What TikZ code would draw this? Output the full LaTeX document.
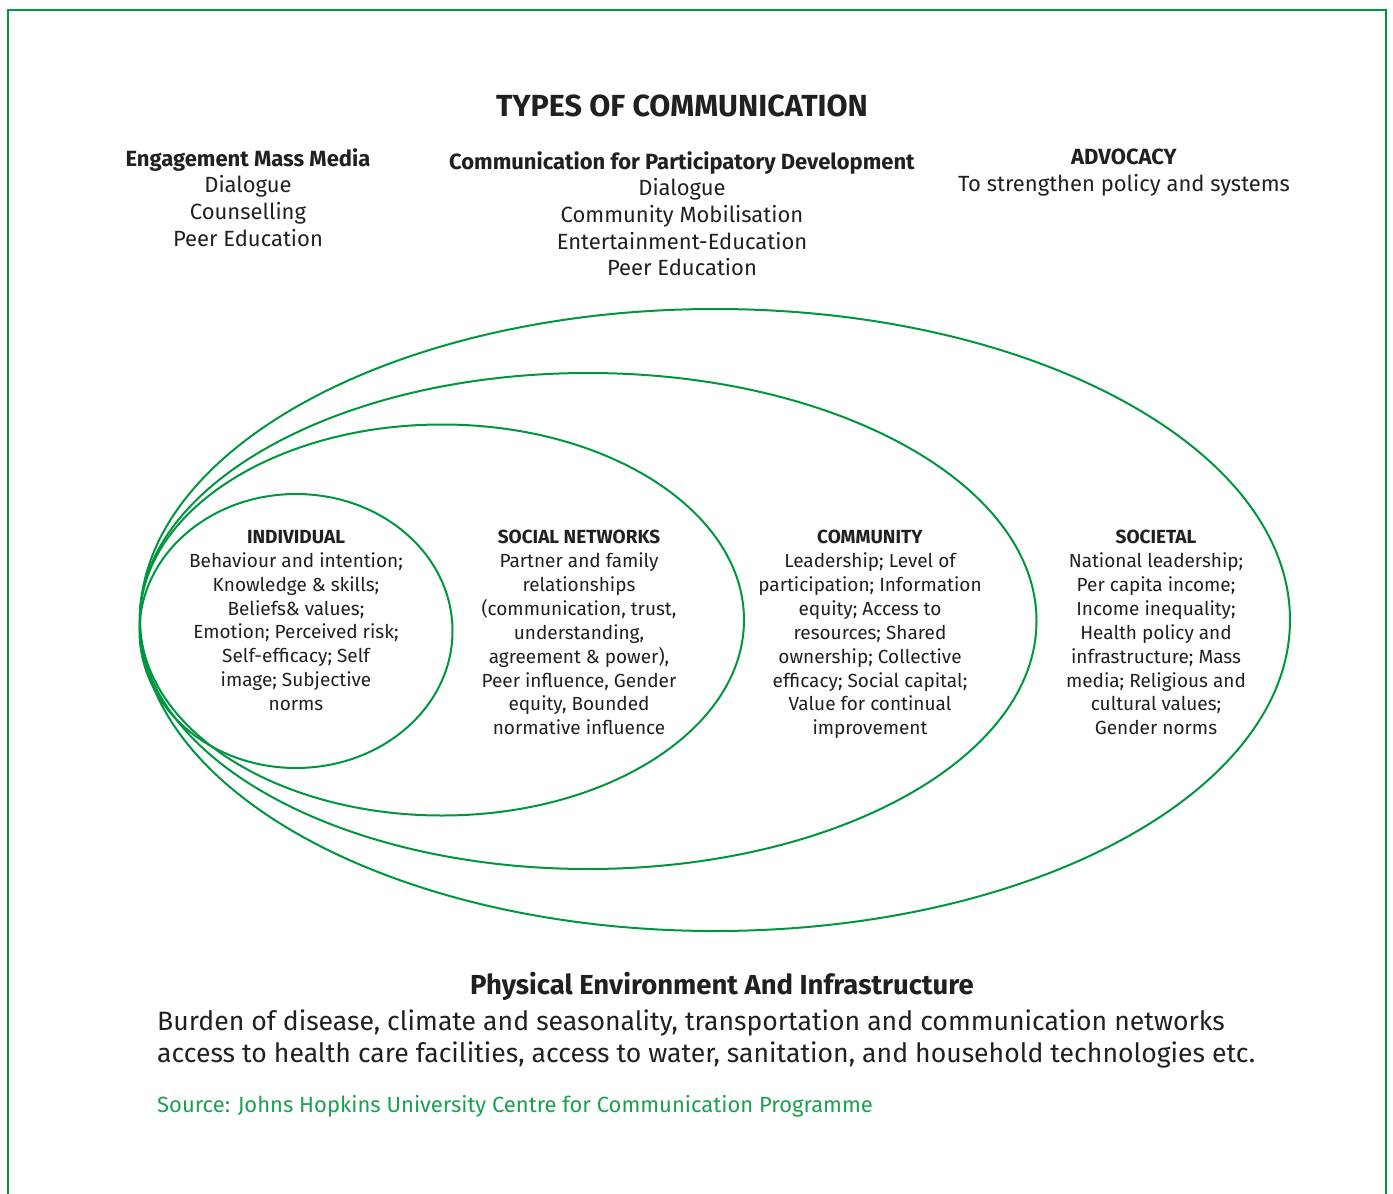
\documentclass[tikz,border=0pt]{standalone}
\usepackage{fontspec}
\setmainfont{Fira Sans}
\usetikzlibrary{shapes.geometric}
\definecolor{ringgreen}{RGB}{0,150,64}
\definecolor{srcgreen}{RGB}{26,160,80}
\definecolor{inkgray}{RGB}{35,31,32}

\begin{document}
\begin{tikzpicture}[x=1pt,y=-1pt,
    ring/.style={ellipse,draw=ringgreen,line width=2pt,inner sep=0pt},
    head/.style={align=center,anchor=north,inner sep=0pt,text=inkgray,font=\fontsize{22}{26.7}\selectfont},
    zone/.style={align=center,anchor=north,inner sep=0pt,text=inkgray,font=\fontsize{19}{23.9}\selectfont}]
    \useasboundingbox (0,0) rectangle (1393,1194);
    % frame, open at the bottom
    \draw[ringgreen,line width=2.2pt] (8,1194) -- (8,10) -- (1386,10) -- (1386,1194);

    \node[anchor=north,inner sep=0pt,text=inkgray,font=\fontsize{30.5}{34}\selectfont\bfseries] (title) at (682,95) {TYPES OF COMMUNICATION};

    \node[head] (massmedia) at (248,148) {\textbf{Engagement Mass Media}\\Dialogue\\Counselling\\Peer Education};
    \node[head] (participatory) at (682,151) {\textbf{Communication for Participatory Development}\\Dialogue\\Community Mobilisation\\Entertainment-Education\\Peer Education};
    \node[head] (advocacy) at (1124,149) {\textbf{ADVOCACY}\\To strengthen policy and systems};

    % nested levels
    \node[ring,minimum width=1150,minimum height=622] (societal) at (715,620) {};
    \node[ring,minimum width=897,minimum height=496] (community) at (588,621) {};
    \node[ring,minimum width=604,minimum height=391] (networks) at (442,620) {};
    \node[ring,minimum width=313,minimum height=274] (individual) at (296,631) {};

    \node[zone] (individualtxt) at (296,530) {\textbf{INDIVIDUAL}\\Behaviour and intention;\\Knowledge \& skills;\\Beliefs\& values;\\Emotion; Perceived risk;\\Self-efficacy; Self\\image; Subjective\\norms};
    \node[zone] (networkstxt) at (579,530) {\textbf{SOCIAL NETWORKS}\\Partner and family\\relationships\\(communication, trust,\\understanding,\\agreement \& power),\\Peer influence, Gender\\equity, Bounded\\normative influence};
    \node[zone] (communitytxt) at (870,530) {\textbf{COMMUNITY}\\Leadership; Level of\\participation; Information\\equity; Access to\\resources; Shared\\ownership; Collective\\efficacy; Social capital;\\Value for continual\\improvement};
    \node[zone] (societaltxt) at (1156,530) {\textbf{SOCIETAL}\\National leadership;\\Per capita income;\\Income inequality;\\Health policy and\\infrastructure; Mass\\media; Religious and\\cultural values;\\Gender norms};

    \node[anchor=north,inner sep=0pt,text=inkgray,font=\fontsize{27.5}{32}\selectfont\bfseries] (physical) at (722,972) {Physical Environment And Infrastructure};
    \node[anchor=north west,align=left,inner sep=0pt,text=inkgray,font=\fontsize{26.6}{32}\selectfont] (burden) at (157,1010) {Burden of disease, climate and seasonality, transportation and communication networks\\access to health care facilities, access to water, sanitation, and household technologies etc.};
    \node[anchor=north west,inner sep=0pt,text=srcgreen,font=\fontsize{22}{26}\selectfont] (source) at (157,1095) {Source: Johns Hopkins University Centre for Communication Programme};
\end{tikzpicture}
\end{document}
